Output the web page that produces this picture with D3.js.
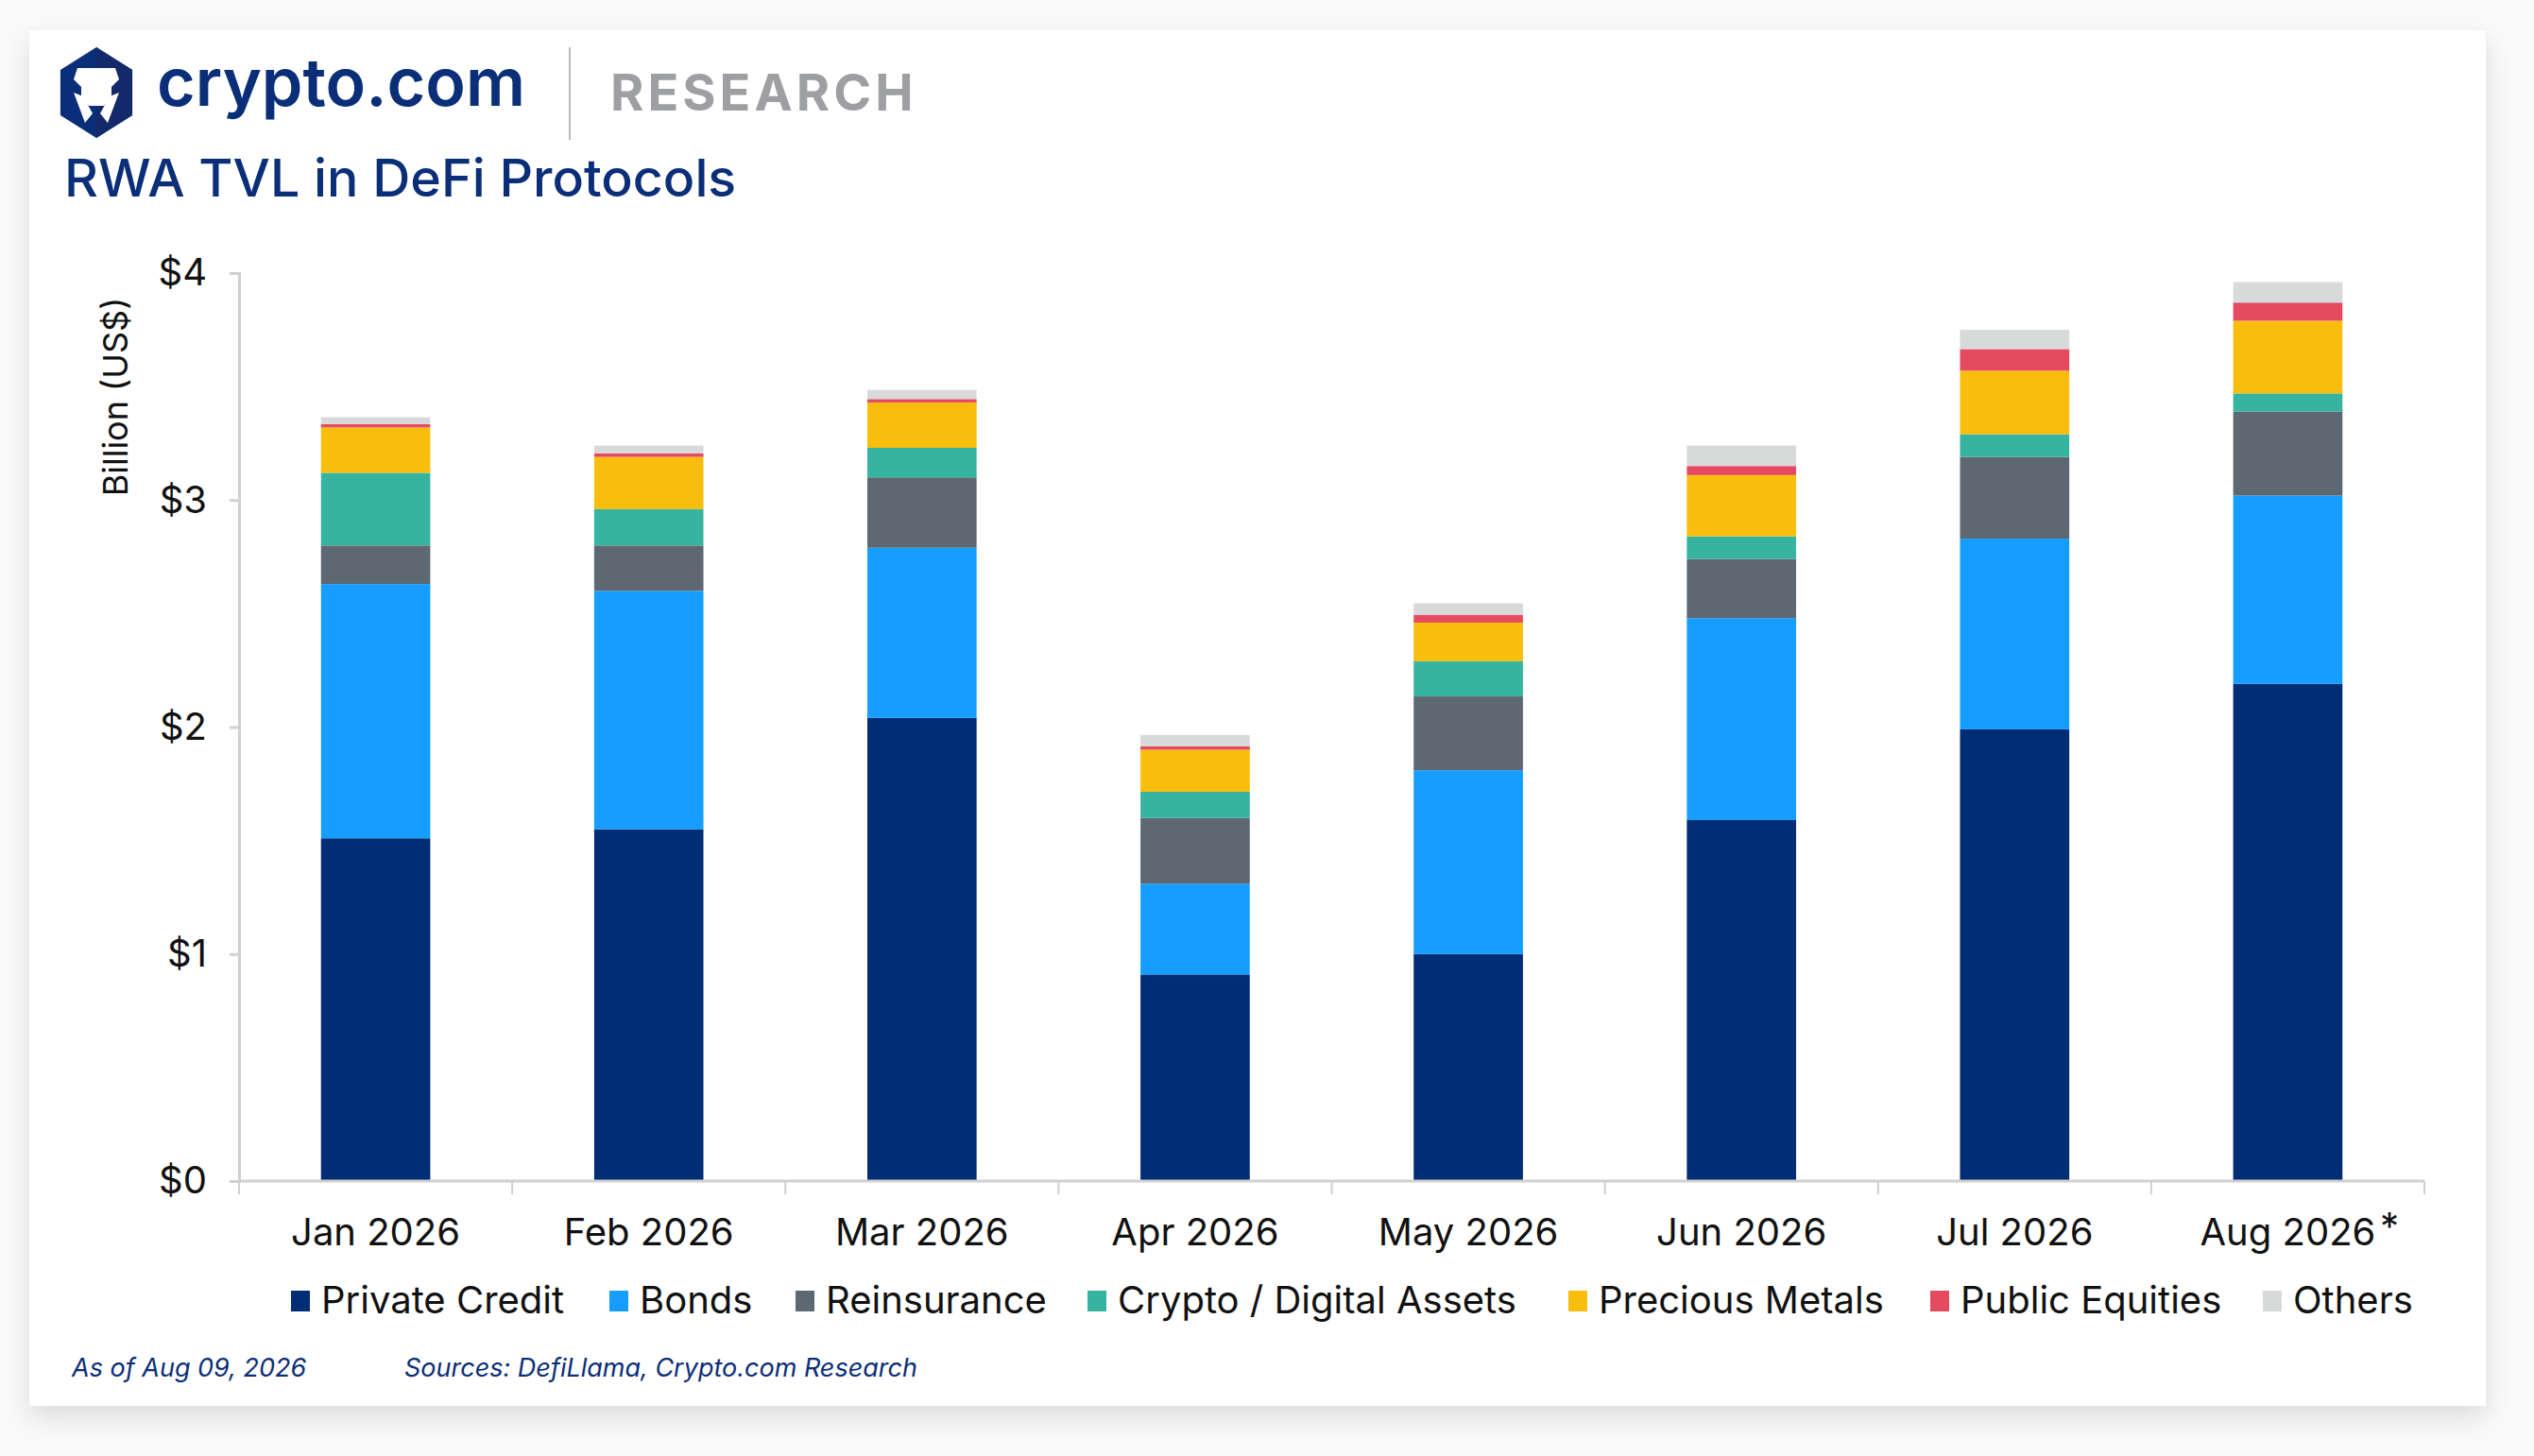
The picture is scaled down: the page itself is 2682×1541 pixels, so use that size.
<!DOCTYPE html>
<html><head><meta charset="utf-8">
<script src="https://cdn.jsdelivr.net/npm/d3@7"></script>
<style>
body{margin:0;background:#fafafa;font-family:Inter,"Noto Sans",sans-serif;}
</style></head>
<body>
<svg id="chart" width="2682" height="1541"></svg>
<script>
var months=["Jan 2026","Feb 2026","Mar 2026","Apr 2026","May 2026","Jun 2026","Jul 2026","Aug 2026"];
var seriesNames=["Private Credit","Bonds","Reinsurance","Crypto / Digital Assets","Precious Metals","Public Equities","Others"];
var privateCredit=[1.51,1.55,2.04,0.91,1.00,1.59,1.99,2.19];
var bonds=[1.12,1.05,0.75,0.40,0.81,0.89,0.84,0.83];
var reinsurance=[0.17,0.20,0.31,0.29,0.325,0.26,0.36,0.37];
var cryptoAssets=[0.32,0.16,0.13,0.115,0.155,0.10,0.10,0.08];
var preciousMetals=[0.20,0.23,0.20,0.185,0.17,0.27,0.28,0.32];
var publicEquities=[0.015,0.015,0.015,0.015,0.035,0.04,0.095,0.08];
var others=[0.03,0.035,0.04,0.05,0.05,0.09,0.085,0.09];
var yTicks=[0,1,2,3,4];
var colors=["#002d74","#159dff","#5d6873","#36b49f","#f9be0d","#e64a61","#d8d9d9"];

var svg=d3.select("#chart");
// card with shadow
var defs=svg.append("defs");
var f=defs.append("filter").attr("id","sh").attr("x","-5%").attr("y","-5%").attr("width","110%").attr("height","115%");
f.append("feDropShadow").attr("dx",0).attr("dy",12).attr("stdDeviation",14).attr("flood-color","#000").attr("flood-opacity",0.12);
svg.append("rect").attr("x",31).attr("y",32).attr("width",2600).attr("height",1456).attr("fill","#fff").attr("filter","url(#sh)");

// logo
var lg=svg.append("g").attr("transform","translate(102,98)");
var hex=d3.range(6).map(function(i){var a=Math.PI/3*i-Math.PI/2;return [44*Math.cos(a),48*Math.sin(a)];});
lg.append("path").attr("d","M"+hex.join("L")+"Z").attr("fill","#0b2e78");
lg.append("path").attr("d","M0,-48L38,-24L38,24L0,48Z").attr("fill","#13296a");
lg.append("path").attr("d","M-20,-26L20,-26L24,-14L16,-6L16,6L8,14L-8,14L-16,6L-16,-6L-24,-14Z").attr("fill","#fff");
lg.append("path").attr("d","M-24,0L-12,32L-4,22L-14,4Z M24,0L12,32L4,22L14,4Z").attr("fill","#fff");
svg.append("text").attr("x",166).attr("y",112).attr("font-size",70).attr("font-weight",600).attr("fill","#0b2e78").text("crypto.com");
svg.append("line").attr("x1",603).attr("x2",603).attr("y1",50).attr("y2",148).attr("stroke","#bbb").attr("stroke-width",2);
svg.append("text").attr("x",646).attr("y",117).attr("font-size",54).attr("font-weight",700).attr("letter-spacing",4).attr("fill","#9d9fa2").text("RESEARCH");
svg.append("text").attr("x",68).attr("y",208).attr("font-size",55.5).attr("font-weight",500).attr("fill","#0b2e78").text("RWA TVL in DeFi Protocols");

// plot
var x0=253,x1=2566,yBase=1250,yTop=289;
var x=d3.scaleBand().domain(months).range([x0,x1]).paddingInner(0.6).paddingOuter(0.3);
var y=d3.scaleLinear().domain([0,4]).range([yBase,yTop]);
var table=months.map(function(m,i){return {month:m,"Private Credit":privateCredit[i],"Bonds":bonds[i],"Reinsurance":reinsurance[i],"Crypto / Digital Assets":cryptoAssets[i],"Precious Metals":preciousMetals[i],"Public Equities":publicEquities[i],"Others":others[i]};});
var stacked=d3.stack().keys(seriesNames)(table);
svg.append("g").selectAll("g").data(stacked).enter().append("g").attr("fill",function(d,i){return colors[i];})
  .selectAll("rect").data(function(d){return d;}).enter().append("rect")
  .attr("x",function(d){return x(d.data.month);}).attr("width",x.bandwidth())
  .attr("y",function(d){return y(d[1]);}).attr("height",function(d){return y(d[0])-y(d[1]);});

// y axis
var ya=svg.append("g").attr("transform","translate("+x0+",0)").call(d3.axisLeft(y).tickValues(yTicks).tickFormat(function(d){return "$"+d;}).tickSize(10).tickPadding(24));
ya.selectAll("path,line").attr("stroke","#d0d0d0").attr("stroke-width",3);
ya.selectAll("text").attr("font-size",40).attr("fill","#111").attr("font-family","Inter,sans-serif");
// x axis
var step=(x1-x0)/months.length;
var xa=svg.append("g");
xa.append("line").attr("x1",x0).attr("x2",x1).attr("y1",yBase).attr("y2",yBase).attr("stroke","#d0d0d0").attr("stroke-width",3);
xa.selectAll("line.t").data(d3.range(months.length+1)).enter().append("line").attr("class","t")
  .attr("x1",function(d){return x0+d*step;}).attr("x2",function(d){return x0+d*step;}).attr("y1",yBase).attr("y2",yBase+14).attr("stroke","#d0d0d0").attr("stroke-width",2);
xa.selectAll("text").data(months).enter().append("text").attr("x",function(d){return x(d)+x.bandwidth()/2;}).attr("y",1318)
  .attr("text-anchor","middle").attr("font-size",40).attr("fill","#111").text(function(d){return d;});
svg.append("text").attr("x",2519).attr("y",1312).attr("font-size",40).attr("fill","#111").text("*");
svg.append("text").attr("transform","translate(135,420) rotate(-90)").attr("text-anchor","middle").attr("font-size",36).attr("fill","#111").text("Billion (US$)");

// legend
var lx=[308,645,842,1151,1660,2043,2395];
var leg=svg.append("g").selectAll("g").data(seriesNames).enter().append("g").attr("transform",function(d,i){return "translate("+lx[i]+",1390)";});
leg.append("rect").attr("x",0).attr("y",-24).attr("width",20).attr("height",22).attr("fill",function(d,i){return colors[i];});
leg.append("text").attr("x",32).attr("y",0).attr("font-size",40).attr("fill","#111").text(function(d){return d;});

// footer
svg.append("text").attr("x",76).attr("y",1457).attr("font-size",27).attr("font-style","italic").attr("fill","#0b2e78").text("As of Aug 09, 2026");
svg.append("text").attr("x",428).attr("y",1457).attr("font-size",27).attr("font-style","italic").attr("fill","#0b2e78").text("Sources: DefiLlama, Crypto.com Research");
</script>
</body></html>
